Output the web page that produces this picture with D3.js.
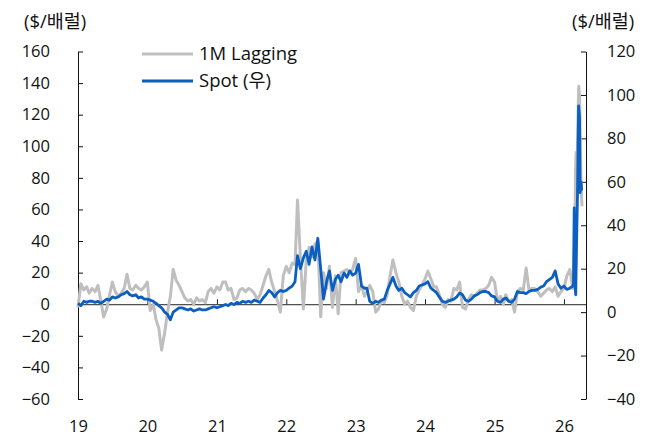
<!DOCTYPE html>
<html>
<head>
<meta charset="utf-8">
<script src="https://cdn.jsdelivr.net/npm/d3@7"></script>
<style>
body { margin:0; background:#fff; }
svg text { font-family:"Open Sans","Noto Sans CJK KR",sans-serif; font-size:16.5px; fill:#111; }
svg text.big { font-size:18.5px; }
</style>
</head>
<body>
<div id="chart"></div>
<script>
// semi-monthly values (1st and 16th of each month), 2019-01-01 .. 2026-02-16
var lagging = [
  -2, 13, 9, 11, 7, 10, 8, 12, 2, -8, -3, 6, 14, 8, 5, 7, 10, 19, 10, 9, 12, 10, 9, 11,        // 2019
  14, -4, 0, -10, -15, -29, -18, -5, 5, 22, 15, 12, 8, 4, 2, 3, 0, 4, 2, 3, 1, 8, 10, 7,         // 2020
  11, 9, 14, 14, 9, 10, 3, 4, 9, 10, 8, 10, 9, 7, 3, 6, 12, 18, 22, 14, 8, 2, -5, 18,            // 2021
  24, 20, 26, 25, 66, 30, -3, 28, 36, 30, 38, 40, -8, 20, 10, 24, -2, 18, -6, 20, 21, 22, 20, 22, // 2022
  29, 8, 12, 5, 8, 12, 8, -5, -3, 2, 1, 6, 18, 28, 20, 14, 5, 0, 2, -2, -4, 5, 9, 12,            // 2023
  16, 21, 16, 11, 11, 6, 0, -2, 3, 2, 10, 9, 14, -2, -3, 3, 6, 5, 7, 9, 9, 10, 12, 17,           // 2024
  14, 2, 5, 0, 6, 2, 3, -5, 8, 10, 9, 23, 9, 10, 10, 8, 5, 7, 9, 10, 8, 11, 5, 8,                // 2025
  10, 18, 22, 10                                                                                 // 2026
];
var spot = [
  4, 3, 5, 4.5, 5, 5, 4.5, 5, 4, 5, 6, 5.5, 7, 6.5, 7, 8, 8.5, 9.5, 8, 7.5, 8, 6.5, 7, 6,
  6, 5.5, 5, 4, 3, 2, 0, -1, -3.5, 0, 1, 2, 2, 1.5, 1, 1.5, 0.5, 1, 1.5, 1, 1, 1.5, 2, 2.5,
  2, 2.5, 3, 3.5, 3, 4, 3.5, 4.5, 4, 5, 4.5, 5, 4.5, 5.5, 5, 4.5, 6.5, 8, 10, 9, 7, 9, 10, 9.5,
  10, 11, 12, 14, 26, 20, 25, 28, 22, 30, 24, 34, 20, 6, 14, 19, 10, 15, 17, 14, 18, 16, 19, 17,
  18, 22, 12, 11, 11, 5, 4, 5, 4.5, 5.5, 6, 10, 13, 16, 12, 10, 11, 9, 8, 7, 9, 10, 12, 12.5,
  13, 14, 11, 10, 9, 7, 5, 4.5, 5, 5.5, 6, 7, 8.8, 8, 5.5, 5, 6, 7.5, 8, 9, 9.5, 9.5, 9, 7.5,
  7, 5, 4.5, 6, 6.5, 5, 4.5, 6, 9.5, 9, 9, 8.5, 9.5, 10, 10, 10.5, 11.5, 12, 14, 15, 16, 19, 13, 11,
  12, 10.5, 11, 12
];
// the 2026 spike, daily-ish points
var laggingTailDates = ["2026-02-20","2026-02-27","2026-03-03","2026-03-06","2026-03-10","2026-03-13","2026-03-17","2026-03-20","2026-03-24","2026-03-27","2026-04-01","2026-04-06"];
var laggingTail      = [12, 45, 85, 96, 88, 100, 125, 138, 132, 110, 75, 62];
var spotTailDates    = ["2026-02-20","2026-02-24","2026-02-28","2026-03-04","2026-03-09","2026-03-13","2026-03-19","2026-03-24","2026-03-27","2026-04-01","2026-04-04"];
var spotTail         = [13, 48, 12, 8, 35, 53, 95, 90, 55, 60, 56];

var leftTicks  = [-60, -40, -20, 0, 20, 40, 60, 80, 100, 120, 140, 160];
var rightTicks = [-40, -20, 0, 20, 40, 60, 80, 100, 120];
var unitLabel  = "($/배럴)";
var seriesNames = ["1M Lagging", "Spot (우)"];
var colors = ["#bfbfbf", "#0a5fc0"];

var parse = d3.timeParse("%Y-%m-%d");

function halfMonth(i) {
    return new Date(2019, Math.floor(i / 2), i % 2 ? 16 : 1);
}
function build(vals, tailDates, tailVals) {
    var out = vals.map(function(v, i) { return {date: halfMonth(i), v: v}; });
    tailDates.forEach(function(d, i) { out.push({date: parse(d), v: tailVals[i]}); });
    return out;
}
var grayData = build(lagging, laggingTailDates, laggingTail);
var blueData = build(spot, spotTailDates, spotTail);

var W = 660, H = 440,
    plotL = 78, plotR = 586, plotT = 51.5, plotB = 399;

var x  = d3.scaleTime().domain([new Date(2019, 0, 1), new Date(2026, 3, 27)]).range([plotL, plotR]);
var yL = d3.scaleLinear().domain([-60, 160]).range([plotB, plotT]);
var yR = d3.scaleLinear().domain([-40, 120]).range([plotB, plotT]);

var svg = d3.select("#chart").append("svg")
    .attr("width", W)
    .attr("height", H);

// zero line with year ticks pointing up
var zx = svg.append("g")
    .attr("transform", "translate(0," + yL(0) + ")")
    .call(d3.axisBottom(x).ticks(d3.timeYear.every(1)).tickSize(-5).tickSizeOuter(0).tickFormat(""));
zx.selectAll("path,line").attr("stroke", "#222");

// year labels at the bottom
var xl = svg.append("g")
    .attr("transform", "translate(0," + plotB + ")")
    .call(d3.axisBottom(x).ticks(d3.timeYear.every(1)).tickSize(0).tickPadding(21).tickFormat(d3.timeFormat("%y")));
xl.select(".domain").remove();
xl.selectAll("text").attr("font-size", null).attr("font-family", null);

var ga = svg.append("g")
    .attr("transform", "translate(" + plotL + ",0)")
    .call(d3.axisLeft(yL).tickValues(leftTicks).tickSize(-5).tickSizeOuter(0).tickPadding(28));
var gr = svg.append("g")
    .attr("transform", "translate(" + plotR + ",0)")
    .call(d3.axisRight(yR).tickValues(rightTicks).tickSize(-5).tickSizeOuter(0).tickPadding(21));
[ga, gr].forEach(function(g) {
    g.selectAll("path,line").attr("stroke", "#111");
    g.selectAll("text").attr("font-size", null).attr("font-family", null);
});

// lines
var lineL = d3.line().x(function(d) { return x(d.date); }).y(function(d) { return yL(d.v); });
var lineR = d3.line().x(function(d) { return x(d.date); }).y(function(d) { return yR(d.v); });

svg.append("path").datum(grayData)
    .attr("d", lineL)
    .attr("fill", "none").attr("stroke", colors[0]).attr("stroke-width", 3)
    .attr("stroke-linejoin", "round");
svg.append("path").datum(blueData)
    .attr("d", lineR)
    .attr("fill", "none").attr("stroke", colors[1]).attr("stroke-width", 2.8)
    .attr("stroke-linejoin", "round");

// unit labels
svg.append("text").attr("class", "big").attr("x", 24).attr("y", 28).text(unitLabel);
svg.append("text").attr("class", "big").attr("x", 572).attr("y", 28).text(unitLabel);

// legend
var leg = svg.append("g");
seriesNames.forEach(function(name, i) {
    var yy = 54 + i * 27;
    leg.append("line").attr("x1", 142).attr("x2", 193).attr("y1", yy).attr("y2", yy)
        .attr("stroke", colors[i]).attr("stroke-width", 2.8);
    leg.append("text").attr("class", "big").attr("x", 199).attr("y", yy).attr("dy", "0.35em").text(name);
});
</script>
</body>
</html>
